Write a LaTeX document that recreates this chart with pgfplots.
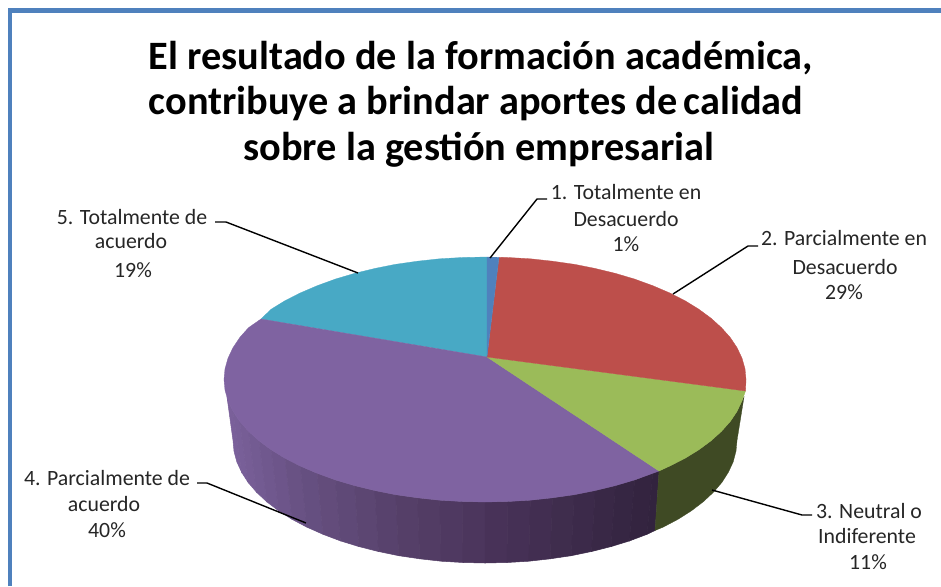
\documentclass[border=0pt]{standalone}
\usepackage{pgfplots}
\pgfplotsset{compat=1.18}
\usepackage{fontspec}
\setmainfont{Carlito}
\definecolor{cframe}{HTML}{4F81BD}
\definecolor{cblue}{HTML}{4F81BD}
\definecolor{cred}{HTML}{BD4F4B}
\definecolor{cgreen}{HTML}{9BBB59}
\definecolor{cpurple}{HTML}{7F63A1}
\definecolor{cteal}{HTML}{48A9C5}
\definecolor{cgside}{HTML}{3F4A24}
\definecolor{ctxt}{HTML}{262626}
\tikzset{
  lab/.style={anchor=base, font=\fontsize{21.8}{26}\selectfont, text=ctxt, inner sep=0pt},
  ttl/.style={anchor=base, font=\fontsize{40.3}{46}\selectfont\bfseries, text=black, inner sep=0pt},
}
\newcommand{\strip}[4]{%
  \addplot[fill={rgb,255:red,#1;green,#2;blue,#3}, draw={rgb,255:red,#1;green,#2;blue,#3}, line width=0.5pt] coordinates {#4} -- cycle;}
\begin{document}
\begin{tikzpicture}
\begin{axis}[
  hide axis, scale only axis, width=941pt, height=586pt,
  xmin=0, xmax=941, ymin=0, ymax=586, y dir=reverse,
]
% background, keeps the full page
\addplot[fill=white, draw=none] coordinates {(0,0) (941,0) (941,586) (0,586)} -- cycle;
% frame
\addplot[cframe, line width=4.5pt, no marks] coordinates {(10,586) (10,10.5) (941,10.5)};
% side of the purple slice, shaded in strips
\strip{122}{96}{154}{(227,397) (228,400.8) (232.9,411.2) (241.6,472.2) (236.8,461.8) (234,451.2) (233,440.5)}
\strip{120}{95}{152}{(232.9,411.2) (239.7,421.4) (248.1,482.4) (241.6,472.2)}
\strip{118}{93}{149}{(239.7,421.4) (248.5,431.3) (256.6,492.3) (248.1,482.4)}
\strip{115}{91}{146}{(248.5,431.3) (259,440.8) (266.8,501.8) (256.6,492.3)}
\strip{112}{88}{142}{(259,440.8) (271.2,449.8) (278.6,510.8) (266.8,501.8)}
\strip{109}{85}{138}{(271.2,449.8) (285,458.3) (292,519.3) (278.6,510.8)}
\strip{105}{82}{132}{(285,458.3) (300.4,466.1) (306.8,527.1) (292,519.3)}
\strip{101}{79}{128}{(300.4,466.1) (317.2,473.3) (323,534.3) (306.8,527.1)}
\strip{99}{76}{123}{(317.2,473.3) (335.3,479.9) (340.5,540.9) (323,534.3)}
\strip{95}{73}{119}{(335.3,479.9) (354.5,485.6) (359,546.6) (340.5,540.9)}
\strip{92}{70}{114}{(354.5,485.6) (374.7,490.5) (378.5,551.5) (359,546.6)}
\strip{88}{66}{109}{(374.7,490.5) (395.7,494.7) (398.8,555.7) (378.5,551.5)}
\strip{85}{63}{104}{(395.7,494.7) (417.5,497.8) (419.8,558.8) (398.8,555.7)}
\strip{82}{60}{100}{(417.5,497.8) (439.6,500.2) (441.2,561.2) (419.8,558.8)}
\strip{79}{57}{97}{(439.6,500.2) (462.2,501.5) (463,562.5) (441.2,561.2)}
\strip{76}{54}{93}{(462.2,501.5) (485,502) (485,563) (463,562.5)}
\strip{72}{50}{88}{(485,502) (507.8,501.5) (507,562.5) (485,563)}
\strip{69}{48}{85}{(507.8,501.5) (530.4,500.2) (528.8,561.2) (507,562.5)}
\strip{66}{46}{81}{(530.4,500.2) (552.5,497.8) (550.2,558.8) (528.8,561.2)}
\strip{63}{45}{77}{(552.5,497.8) (574.3,494.7) (571.2,555.7) (550.2,558.8)}
\strip{60}{42}{74}{(574.3,494.7) (595.3,490.5) (591.5,551.5) (571.2,555.7)}
\strip{57}{40}{70}{(595.3,490.5) (615.5,485.6) (611,546.6) (591.5,551.5)}
\strip{54}{38}{67}{(615.5,485.6) (634.7,479.9) (629.5,540.9) (611,546.6)}
\strip{52}{36}{64}{(634.7,479.9) (652.8,473.3) (647,534.3) (629.5,540.9)}
\strip{50}{35}{62}{(652.8,473.3) (659,471) (655,530.5) (647,534.3)}
% side of the green slice
\addplot[fill=cgside, draw=cgside, line width=0.3pt] coordinates {
(659,471) (669.6,466.1) (685,458.3) (698.8,449.8) (711,440.8) (721.5,431.3) (730.3,421.4) (737.1,411.2) (742,400.8) (744,397)
(737,440.5) (736,451.2) (733.2,461.8) (728.4,472.2) (721.9,482.4) (713.4,492.3) (703.2,501.8) (691.4,510.8) (678,519.3) (663.2,527.1) (655,530.5)} -- cycle;
% top faces
\addplot[fill=cteal, draw=cteal, line width=0.3pt] coordinates {
(487,357) (261,319) (271.2,309.2) (285,300.7) (300.4,292.9) (317.2,285.7) (335.3,279.1) (354.5,273.4) (374.7,268.5) (395.7,264.3) (417.5,261.2) (439.6,258.8) (462.2,257.5) (487,257)} -- cycle;
\addplot[fill=cpurple, draw=cpurple, line width=0.3pt] coordinates {
(487,357) (659,471) (652.8,473.3) (634.7,479.9) (615.5,485.6) (595.3,490.5) (574.3,494.7) (552.5,497.8) (530.4,500.2) (507.8,501.5) (485,502) (462.2,501.5) (439.6,500.2) (417.5,497.8)
(395.7,494.7) (374.7,490.5) (354.5,485.6) (335.3,479.9) (317.2,473.3) (300.4,466.1) (285,458.3) (271.2,449.8) (259,440.8) (248.5,431.3) (239.7,421.4) (232.9,411.2) (228,400.8) (225,390.2) (224,379.5)
(225,368.8) (228,358.2) (232.9,347.8) (239.7,337.6) (248.5,327.7) (261,319)} -- cycle;
\addplot[fill=cgreen, draw=cgreen, line width=0.3pt] coordinates {
(487,357) (745.5,391) (742,400.8) (737.1,411.2) (730.3,421.4) (721.5,431.3) (711,440.8) (698.8,449.8) (685,458.3) (669.6,466.1) (659,471)} -- cycle;
\addplot[fill=cred, draw=cred, line width=0.3pt] coordinates {
(487,357) (499,257.3) (507.8,257.5) (530.4,258.8) (552.5,261.2) (574.3,264.3) (595.3,268.5) (615.5,273.4) (634.7,279.1) (652.8,285.7) (669.6,292.9) (685,300.7) (698.8,309.2) (711,318.2) (721.5,327.7)
(730.3,337.6) (737.1,347.8) (742,358.2) (745,368.8) (746,379.5) (745.5,391)} -- cycle;
\addplot[fill=cblue, draw=cblue, line width=0.3pt] coordinates {(487,357) (487,257) (499,257.3)} -- cycle;
% leader lines
\addplot[black, line width=1.4pt, no marks] coordinates {(490,258) (537,199) (547,199)};
\addplot[black, line width=1.4pt, no marks] coordinates {(673,294) (748,246) (758,246)};
\addplot[black, line width=1.4pt, no marks] coordinates {(712,490) (802,515) (812,515)};
\addplot[black, line width=1.4pt, no marks] coordinates {(306,523) (207,483) (197,483)};
\addplot[black, line width=1.4pt, no marks] coordinates {(358,273) (226,222) (215,222)};
% title
\node[ttl] at (axis cs:481,69) {El resultado de la formación académica,};
\node[ttl] at (axis cs:476,114) {contribuye a brindar aportes de\kern6pt calidad};
\node[ttl] at (axis cs:479,160) {sobre la gestión empresarial};
% labels
\node[lab] at (axis cs:626,199) {1. Totalmente en};
\node[lab] at (axis cs:626,226) {Desacuerdo};
\node[lab] at (axis cs:626,251) {1\%};
\node[lab] at (axis cs:844,245) {2. Parcialmente en};
\node[lab] at (axis cs:845,274) {Desacuerdo};
\node[lab] at (axis cs:844,299) {29\%};
\node[lab] at (axis cs:869,518) {3. Neutral o};
\node[lab] at (axis cs:867,543) {Indiferente};
\node[lab] at (axis cs:868,569) {11\%};
\node[lab] at (axis cs:107,485) {4. Parcialmente de};
\node[lab] at (axis cs:104,511) {acuerdo};
\node[lab] at (axis cs:107,537) {40\%};
\node[lab] at (axis cs:132,224) {5. Totalmente de};
\node[lab] at (axis cs:131,248) {acuerdo};
\node[lab] at (axis cs:133,277) {19\%};
\end{axis}
\end{tikzpicture}
\end{document}
